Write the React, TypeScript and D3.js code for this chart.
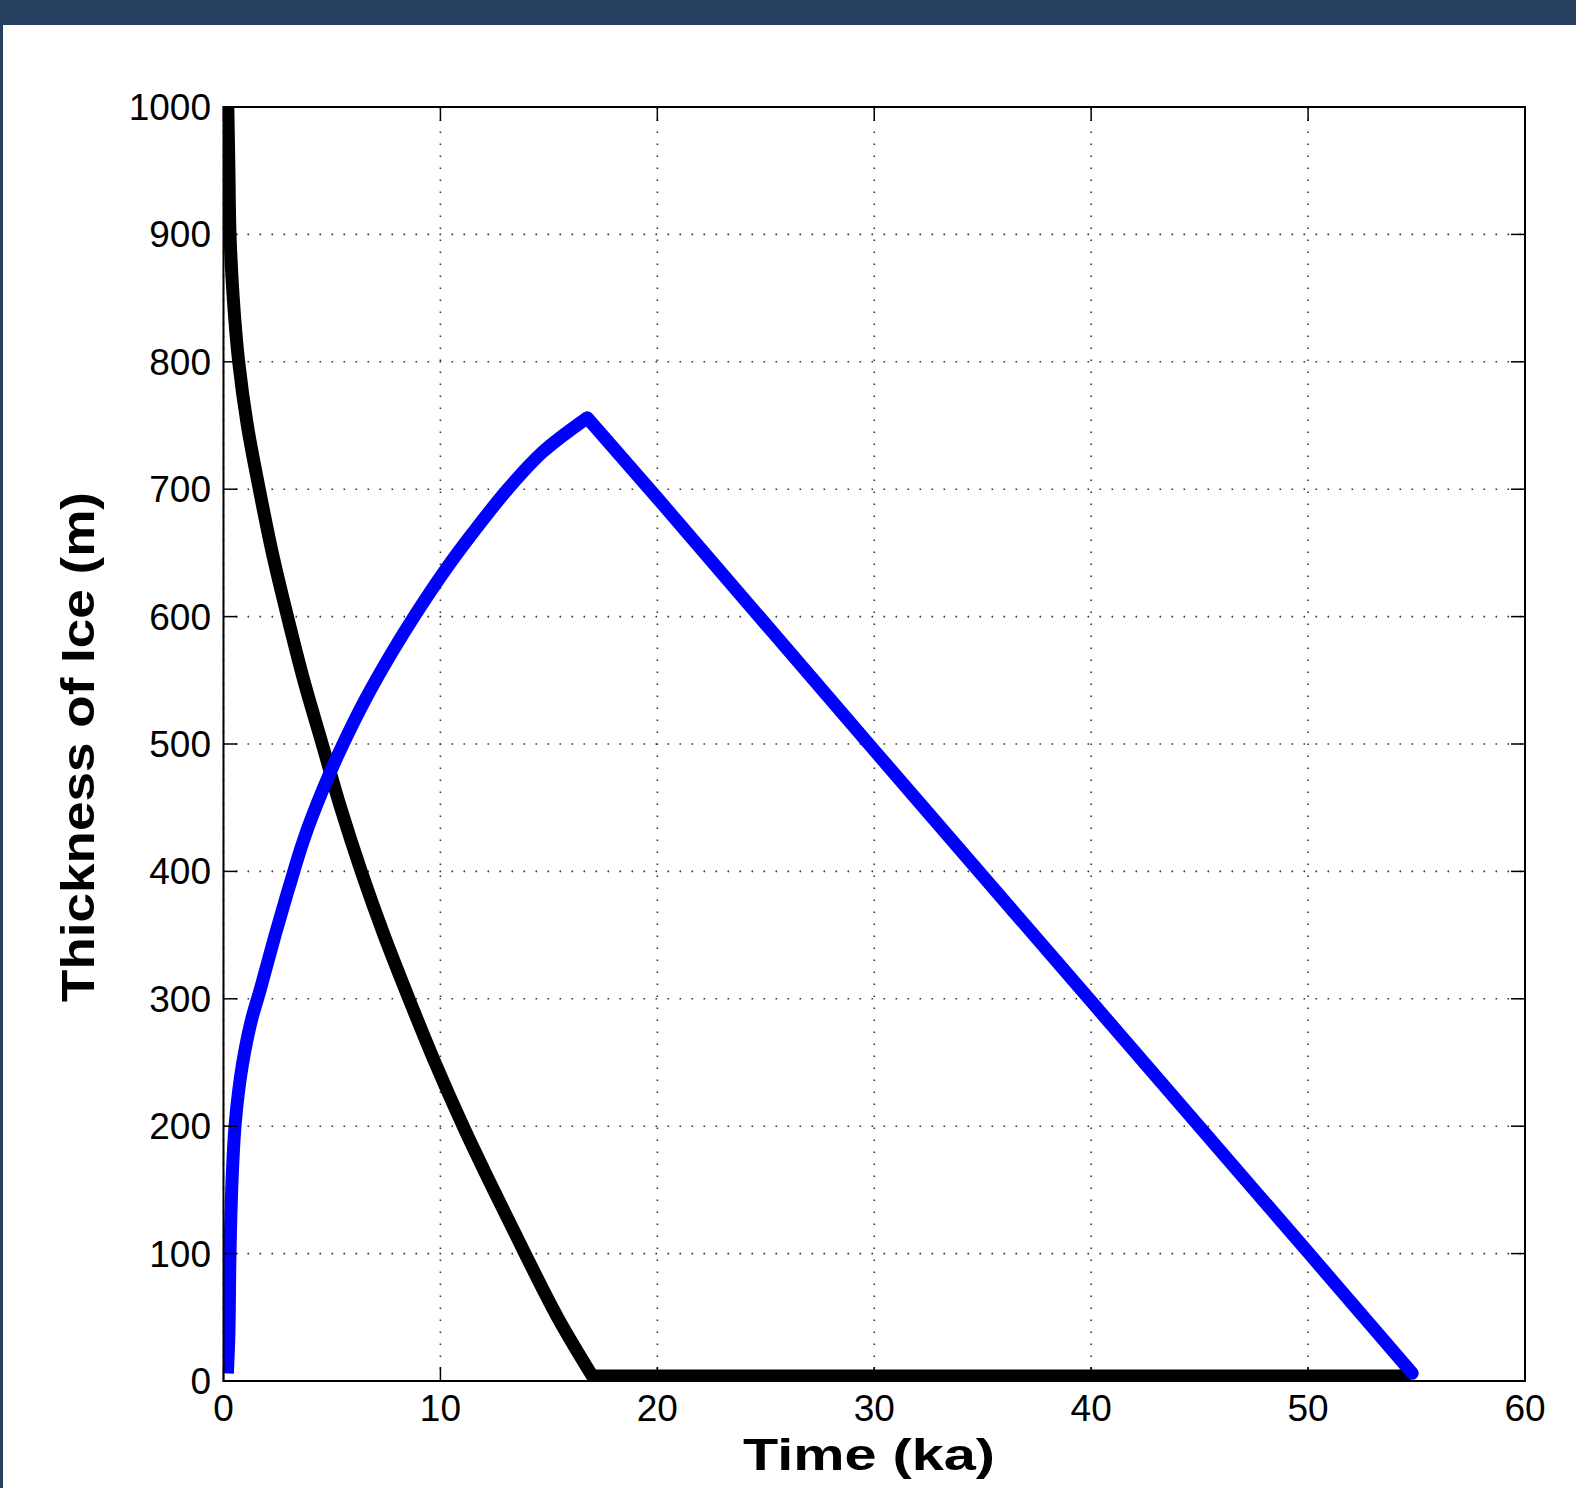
import React from 'react';
import * as d3 from 'd3';

// black curve (first series)
const blackTime = [0.2, 0.25, 0.3, 0.45, 0.7, 1.1, 1.65, 2.25, 2.95, 3.7, 4.55, 5.4, 6.35, 7.4, 8.55, 9.75, 11.05, 12.45, 13.9, 15.4, 17.0, 54.5];
const blackThickness = [1000, 950, 900, 850, 800, 750, 700, 650, 600, 550, 500, 450, 400, 350, 300, 250, 200, 150, 100, 50, 4, 4];

// blue curve (second series)
const blueTime = [0.18, 0.25, 0.3, 0.4, 0.53, 0.7, 0.95, 1.3, 1.69, 2.38, 3.03, 3.7, 4.6, 5.46, 6.54, 7.77, 8.9, 10.2, 11.46, 13.1, 14.7, 16.77, 20, 30, 40, 50, 54.8];
const blueThickness = [6, 38, 101, 160, 200, 228, 256, 284, 307, 350, 388, 425, 465, 498, 535, 572, 603, 636, 665, 700, 729, 756, 693, 495, 298, 101, 6];

const xTicks = [0, 10, 20, 30, 40, 50, 60];
const yTicks = [0, 100, 200, 300, 400, 500, 600, 700, 800, 900, 1000];

const xTitle = 'Time (ka)';
const yTitle = 'Thickness of Ice (m)';

const W = 1576;
const H = 1488;
const left = 223.5;
const right = 1525;
const top = 107;
const bottom = 1381;
const tickLen = 14;
const font = '"Liberation Sans", Arial, Helvetica, sans-serif';

type Pt = [number, number];

// split a series at its sharp corner so the smooth part stays curved and the corner stays sharp
function splitAt(pts: Pt[], idx: number): [Pt[], Pt[]] {
  return [pts.slice(0, idx + 1), pts.slice(idx)];
}

export default function App() {
  const x = d3.scaleLinear().domain([0, 60]).range([left, right]);
  const y = d3.scaleLinear().domain([0, 1000]).range([bottom, top]);

  const smooth = d3.line<Pt>().x(d => x(d[0])).y(d => y(d[1])).curve(d3.curveCatmullRom.alpha(0.5));
  const straight = d3.line<Pt>().x(d => x(d[0])).y(d => y(d[1]));

  const blackPts = blackTime.map((t, i) => [t, blackThickness[i]] as Pt);
  const bluePts = blueTime.map((t, i) => [t, blueThickness[i]] as Pt);

  const blackCorner = blackThickness.indexOf(d3.min(blackThickness) as number);
  const bluePeak = blueThickness.indexOf(d3.max(blueThickness) as number);
  const [blackCurve, blackFlat] = splitAt(blackPts, blackCorner);
  const [blueRise, blueFall] = splitAt(bluePts, bluePeak);

  const lw = 13;

  return (
    <svg width={W} height={H} style={{ position: 'absolute', left: 0, top: 0, background: '#fff' }}>
      <defs>
        <clipPath id="plotClip">
          <rect x={left} y={top} width={right - left} height={bottom - top} />
        </clipPath>
      </defs>

      {/* page frame */}
      <rect x={0} y={0} width={W} height={H} fill="#fff" />
      <rect x={0} y={0} width={W} height={25} fill="#27405f" />
      <rect x={0} y={0} width={3} height={H} fill="#27405f" />

      {/* dotted grid */}
      <g stroke="#333" strokeWidth={1.6} strokeDasharray="1.6 10.4">
        {yTicks.map(v => (
          <line key={'gy' + v} x1={left} x2={right} y1={y(v)} y2={y(v)} />
        ))}
        {xTicks.map(v => (
          <line key={'gx' + v} x1={x(v)} x2={x(v)} y1={bottom} y2={top} />
        ))}
      </g>

      {/* data */}
      <g clipPath="url(#plotClip)" fill="none" strokeLinejoin="round">
        <path d={smooth(blackCurve) || ''} stroke="#000" strokeWidth={lw} />
        <path d={straight(blackFlat) || ''} stroke="#000" strokeWidth={lw} strokeLinecap="round" />
        <path d={smooth(blueRise) || ''} stroke="#0000ff" strokeWidth={lw} />
        <path d={straight(blueFall) || ''} stroke="#0000ff" strokeWidth={lw} strokeLinecap="round" />
      </g>

      {/* ticks */}
      <g stroke="#000" strokeWidth={1.5}>
        {yTicks.map(v => (
          <g key={'ty' + v}>
            <line x1={left} x2={left + tickLen} y1={y(v)} y2={y(v)} />
            <line x1={right} x2={right - tickLen} y1={y(v)} y2={y(v)} />
          </g>
        ))}
        {xTicks.map(v => (
          <g key={'tx' + v}>
            <line x1={x(v)} x2={x(v)} y1={bottom} y2={bottom - tickLen} />
            <line x1={x(v)} x2={x(v)} y1={top} y2={top + tickLen} />
          </g>
        ))}
      </g>

      {/* axes box */}
      <rect x={left} y={top} width={right - left} height={bottom - top} fill="none" stroke="#000" strokeWidth={2} />

      {/* tick labels */}
      <g fontFamily={font} fontSize={37} fill="#000">
        {yTicks.map(v => (
          <text key={'ly' + v} x={211} y={y(v) + 13} textAnchor="end">{v}</text>
        ))}
        {xTicks.map(v => (
          <text key={'lx' + v} x={x(v)} y={1421} textAnchor="middle">{v}</text>
        ))}
      </g>

      {/* axis titles */}
      <text
        x={869}
        y={1470}
        textAnchor="middle"
        fontFamily={font}
        fontWeight="bold"
        fontSize={45}
        textLength={252}
        lengthAdjust="spacingAndGlyphs"
      >
        {xTitle}
      </text>
      <text
        transform="translate(94, 747) rotate(-90)"
        textAnchor="middle"
        fontFamily={font}
        fontWeight="bold"
        fontSize={46}
        textLength={510}
        lengthAdjust="spacingAndGlyphs"
      >
        {yTitle}
      </text>
    </svg>
  );
}
